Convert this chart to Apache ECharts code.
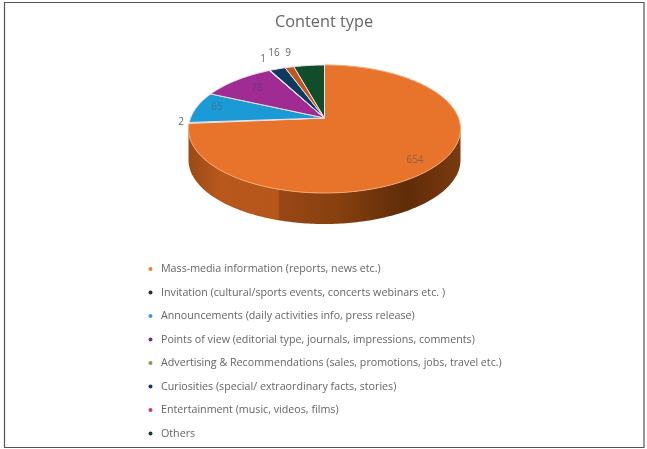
<!DOCTYPE html>
<html><head><meta charset="utf-8">
<style>html,body{margin:0;padding:0;background:#fff}#c{width:647px;height:449px}</style>
<script src="https://cdn.jsdelivr.net/npm/echarts@6/dist/echarts.min.js"></script>
</head><body><div id="c"></div>
<script>
const categories = [
  'Mass-media information (reports, news etc.)',
  'Invitation (cultural/sports events, concerts webinars etc. )',
  'Announcements (daily activities info, press release)',
  'Points of view (editorial type, journals, impressions, comments)',
  'Advertising & Recommendations (sales, promotions, jobs, travel etc.)',
  'Curiosities (special/ extraordinary facts, stories)',
  'Entertainment (music, videos, films)',
  'Others'
];
const values = [654, 2, 65, 78, 1, 16, 9, 31];
const colors = ['#E8732A', '#1F3A4D', '#1C9AD6', '#A02B93', '#6FA03A', '#0F3A5F', '#C0561E', '#114D2A'];
const legendDots = ['#E8832A', '#1F2F3D', '#3A9AD6', '#7A2B83', '#7FA04A', '#1F2F6F', '#C0405E', '#113D2A'];

// Elliptical pie geometry (styling only, not data)
const geo = { cx: 324.5, cy: 129, rx: 136, ry: 64, apexY: 118, depth: 31 };
const labelStyle = [
  { at: [415, 160], color: '#8a6048' }, { at: [181, 122], color: '#666' },
  { at: [217, 107], color: '#3f7696' }, { at: [257, 88], color: '#66387e' },
  { at: [263, 59], color: '#666' }, { at: [274, 53], color: '#666' },
  { at: [288, 53], color: '#666' }, null
];
const total = values.reduce((a, b) => a + b, 0);
const rim = t => [geo.cx + geo.rx * Math.sin(t), geo.cy - geo.ry * Math.cos(t)];

function arcPts(a, b) {
  const pts = [], n = Math.max(2, Math.ceil((b - a) / 0.02));
  for (let i = 0; i <= n; i++) pts.push(rim(a + (b - a) * i / n));
  return pts;
}
function renderSlice(idx) {
  return function () {
    let before = 0;
    for (let i = 0; i < idx; i++) before += values[i];
    const a = before / total * Math.PI * 2;
    const b = (before + values[idx]) / total * Math.PI * 2;
    const children = [];
    const wa = Math.max(a, Math.PI / 2), wb = Math.min(b, Math.PI * 1.5);
    if (wb > wa) {
      const top = arcPts(wa, wb);
      const low = top.map(p => [p[0], p[1] + geo.depth]).reverse();
      children.push({
        type: 'polygon', z2: 1, shape: { points: top.concat(low) },
        style: { fill: new echarts.graphic.LinearGradient(0, 0, 1, 0, [
          { offset: 0, color: '#9a4a16' }, { offset: 0.12, color: '#b9581c' },
          { offset: 0.33, color: '#b5561b' }, { offset: 0.335, color: '#9a4716' },
          { offset: 0.55, color: '#87400f' }, { offset: 0.8, color: '#5f2c09' },
          { offset: 1, color: '#7a3a10' }
        ]) }
      });
    }
    children.push({
      type: 'polygon', z2: 2,
      shape: { points: [[geo.cx, geo.apexY]].concat(arcPts(a, b)) },
      style: { fill: colors[idx], stroke: idx === 0 ? '#f4a873' : '#e9e4ea', lineWidth: 1 }
    });
    const ls = labelStyle[idx];
    if (ls) children.push({
      type: 'text', z2: 5, x: ls.at[0], y: ls.at[1],
      style: { text: String(values[idx]), fill: ls.color, font: '10px "Open Sans"', align: 'center', verticalAlign: 'middle' }
    });
    return { type: 'group', children };
  };
}

const chart = echarts.init(document.getElementById('c'), null, { renderer: 'canvas' });
chart.setOption({
  animation: false,
  title: { text: 'Content type', left: 324, top: 9, textAlign: 'center', padding: [5, 0, 5, 0],
    textStyle: { color: '#666', fontSize: 16.3, fontWeight: 'normal', fontFamily: '"Open Sans"' } },
  legend: {
    orient: 'vertical', left: 148.5, top: 262, itemWidth: 4, itemHeight: 4, itemGap: 9.5,
    icon: 'circle', padding: 0,
    data: categories.map((name, i) => ({ name, itemStyle: { color: legendDots[i] } })),
    textStyle: { color: '#666', fontSize: 10.7, height: 14, lineHeight: 14, fontFamily: '"Open Sans"', padding: [0, 0, 0, 3.5] }
  },
  graphic: [{ type: 'rect', silent: true,
    shape: { x: 4.5, y: 2.5, width: 639.5, height: 445 },
    style: { fill: 'none', stroke: '#555', lineWidth: 1.2 } }],
  series: categories.map((name, i) => ({
    type: 'custom', name, coordinateSystem: 'none',
    itemStyle: { color: colors[i] },
    data: [values[i]],
    renderItem: renderSlice(i)
  }))
});
</script></body></html>
